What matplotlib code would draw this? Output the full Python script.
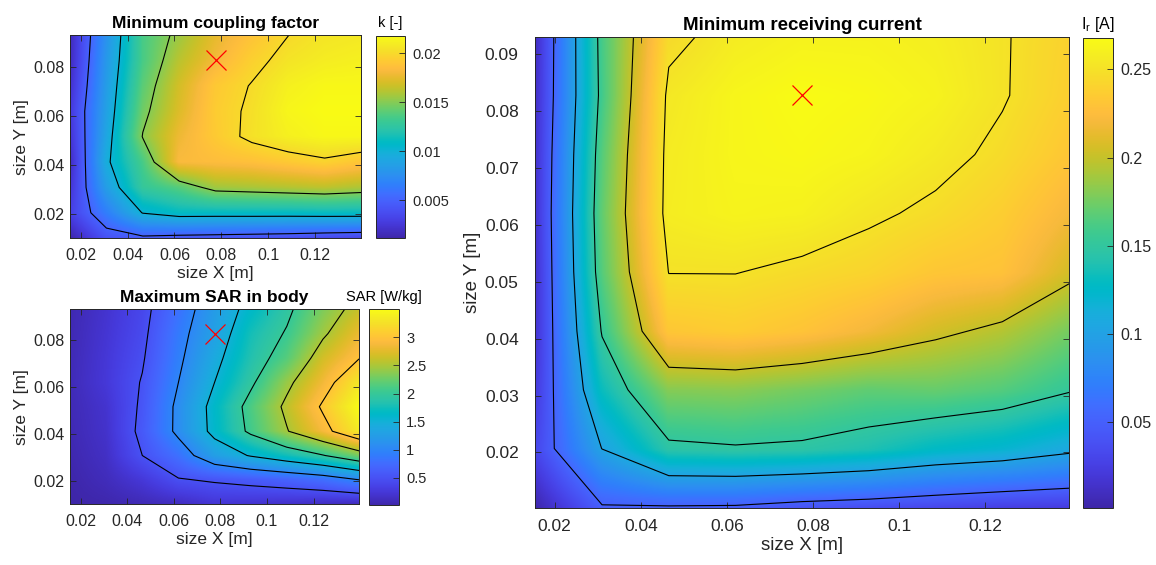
import numpy as np
import matplotlib
matplotlib.use('Agg')
import matplotlib.pyplot as plt
from matplotlib.colors import LinearSegmentedColormap
from matplotlib.ticker import FuncFormatter

plt.rcParams['font.family'] = ['Liberation Sans', 'DejaVu Sans']

# grid of coil sizes (9 x 9)
size_x = [0.0155, 0.031, 0.0465, 0.062, 0.0775, 0.093, 0.1085, 0.124, 0.1395]
size_y = [0.0103, 0.0207, 0.031, 0.0413, 0.0517, 0.062, 0.0723, 0.0827, 0.093]

# chosen design
opt_x = 0.0775
opt_y = 0.0827

# minimum coupling factor k [-], rows follow size_y (bottom -> top)
k_min = [
    [0.0011, 0.0040, 0.0045, 0.00418, 0.00403, 0.00386, 0.00368, 0.00338, 0.00317],
    [0.0030, 0.0065, 0.0101, 0.0110, 0.01097, 0.0110, 0.0110, 0.0111, 0.0111],
    [0.00226, 0.00849, 0.0128, 0.0139, 0.01565, 0.01588, 0.01613, 0.01637, 0.01598],
    [0.00167, 0.0096, 0.0135, 0.0183, 0.0185, 0.0187, 0.0192, 0.0197, 0.0190],
    [0.00219, 0.00905, 0.0151, 0.0178, 0.0192, 0.0204, 0.0212, 0.0216, 0.0216],
    [0.0025, 0.0087, 0.0145, 0.0172, 0.0193, 0.0203, 0.0215, 0.0218, 0.0218],
    [0.0020, 0.0084, 0.0140, 0.0169, 0.0191, 0.0201, 0.0212, 0.0216, 0.0216],
    [0.0016, 0.0081, 0.0135, 0.0162, 0.0180, 0.0195, 0.02054, 0.0210, 0.0212],
    [0.0015, 0.0077, 0.0135, 0.0155, 0.0175, 0.0188, 0.01998, 0.0206, 0.0208],
]
k_levels = [0.005, 0.01, 0.015, 0.02]
k_ticks = [0.005, 0.01, 0.015, 0.02]

# maximum SAR in body [W/kg]
sar_max = [
    [0.01, 0.03, 0.07, 0.12, 0.22, 0.20, 0.17, 0.13, 0.09],
    [0.02, 0.10, 0.25, 0.477, 0.535, 0.595, 0.67, 0.78, 1.00],
    [0.04, 0.15, 0.50, 0.80, 1.265, 1.526, 1.75, 1.98, 2.30],
    [0.06, 0.18, 0.58, 1.08, 1.605, 2.07, 2.48, 2.88, 3.34],
    [0.07, 0.20, 0.55, 1.08, 1.625, 2.118, 2.573, 3.047, 3.50],
    [0.08, 0.25, 0.52, 1.00, 1.50, 1.94, 2.42, 2.85, 3.32],
    [0.07, 0.24, 0.47, 0.93, 1.40, 1.83, 2.16, 2.67, 2.99],
    [0.06, 0.22, 0.43, 0.88, 1.29, 1.76, 2.03, 2.45, 2.81],
    [0.05, 0.20, 0.40, 0.80, 1.23, 1.63, 1.93, 2.32, 2.62],
]
sar_levels = [0.5, 1.0, 1.5, 2.0, 2.5, 3.0]
sar_ticks = [0.5, 1, 1.5, 2, 2.5, 3]

# minimum receiving current I_r [A]
ir_min = [
    [0.0014, 0.0474, 0.047, 0.046, 0.039, 0.035, 0.0295, 0.024, 0.022],
    [0.030, 0.1005, 0.145, 0.148, 0.146, 0.139, 0.127, 0.120, 0.107],
    [0.020, 0.131, 0.180, 0.1815, 0.1755, 0.169, 0.171, 0.165, 0.152],
    [0.014, 0.152, 0.232, 0.236, 0.230, 0.219, 0.205, 0.1945, 0.176],
    [0.012, 0.165, 0.2505, 0.2505, 0.246, 0.2412, 0.232, 0.229, 0.206],
    [0.013, 0.169, 0.258, 0.2625, 0.261, 0.2531, 0.2464, 0.237, 0.220],
    [0.012, 0.165, 0.257, 0.264, 0.266, 0.263, 0.2557, 0.246, 0.232],
    [0.010, 0.158, 0.2546, 0.264, 0.268, 0.266, 0.262, 0.2515, 0.238],
    [0.008, 0.160, 0.245, 0.2575, 0.262, 0.262, 0.259, 0.2515, 0.240],
]
ir_levels = [0.05, 0.1, 0.15, 0.2, 0.25]
ir_ticks = [0.05, 0.1, 0.15, 0.2, 0.25]

x_ticks = [0.02, 0.04, 0.06, 0.08, 0.1, 0.12]
y_ticks_small = [0.02, 0.04, 0.06, 0.08]
y_ticks_big = [0.02, 0.03, 0.04, 0.05, 0.06, 0.07, 0.08, 0.09]

# MATLAB parula, smoothed
parula = LinearSegmentedColormap.from_list('parula', [
    [0.2422, 0.1504, 0.6603], [0.2504, 0.1650, 0.7076], [0.2578, 0.1818, 0.7511],
    [0.2647, 0.1978, 0.7952], [0.2706, 0.2147, 0.8364], [0.2751, 0.2342, 0.8710],
    [0.2783, 0.2559, 0.8991], [0.2803, 0.2782, 0.9221], [0.2813, 0.3006, 0.9414],
    [0.2810, 0.3228, 0.9579], [0.2795, 0.3447, 0.9717], [0.2760, 0.3667, 0.9829],
    [0.2699, 0.3892, 0.9906], [0.2602, 0.4123, 0.9952], [0.2440, 0.4358, 0.9988],
    [0.2206, 0.4603, 0.9973], [0.1963, 0.4847, 0.9892], [0.1834, 0.5074, 0.9798],
    [0.1786, 0.5289, 0.9682], [0.1764, 0.5499, 0.9520], [0.1687, 0.5703, 0.9359],
    [0.1540, 0.5902, 0.9218], [0.1460, 0.6091, 0.9079], [0.1380, 0.6276, 0.8973],
    [0.1248, 0.6459, 0.8883], [0.1113, 0.6635, 0.8763], [0.0952, 0.6798, 0.8598],
    [0.0689, 0.6948, 0.8394], [0.0297, 0.7082, 0.8163], [0.0036, 0.7203, 0.7917],
    [0.0067, 0.7312, 0.7660], [0.0433, 0.7411, 0.7394], [0.0964, 0.7500, 0.7120],
    [0.1408, 0.7584, 0.6842], [0.1717, 0.7670, 0.6554], [0.1938, 0.7758, 0.6251],
    [0.2161, 0.7843, 0.5923], [0.2470, 0.7918, 0.5567], [0.2906, 0.7973, 0.5188],
    [0.3406, 0.8008, 0.4789], [0.3909, 0.8029, 0.4354], [0.4456, 0.8024, 0.3909],
    [0.5044, 0.7993, 0.3480], [0.5616, 0.7942, 0.3045], [0.6174, 0.7876, 0.2612],
    [0.6720, 0.7793, 0.2227], [0.7242, 0.7698, 0.1910], [0.7738, 0.7598, 0.1646],
    [0.8203, 0.7498, 0.1535], [0.8634, 0.7406, 0.1596], [0.9035, 0.7330, 0.1774],
    [0.9393, 0.7288, 0.2100], [0.9728, 0.7298, 0.2394], [0.9956, 0.7434, 0.2371],
    [0.9970, 0.7659, 0.2199], [0.9952, 0.7893, 0.2028], [0.9892, 0.8136, 0.1885],
    [0.9786, 0.8386, 0.1766], [0.9676, 0.8639, 0.1643], [0.9610, 0.8890, 0.1537],
    [0.9597, 0.9135, 0.1423], [0.9628, 0.9373, 0.1265], [0.9691, 0.9606, 0.1064],
    [0.9769, 0.9839, 0.0805]], N=512)

edge = '#262626'
fmt = FuncFormatter(lambda v, p: f'{v:g}')


def draw_map(ax, cax, z, levels, cticks, title, clabel, yticks, fs, tfs, cfs, xpad, ypad):
    z = np.array(z)
    x = np.array(size_x)
    y = np.array(size_y)
    dx = x[1] - x[0]
    dy = y[1] - y[0]
    im = ax.imshow(z, origin='lower', cmap=parula, aspect='auto',
                   extent=[x[0] - dx / 2, x[-1] + dx / 2, y[0] - dy / 2, y[-1] + dy / 2],
                   interpolation='bilinear', interpolation_stage='data')
    X, Y = np.meshgrid(x, y)
    ax.contour(X, Y, z, levels=levels, colors='k', linewidths=0.8)
    ax.plot(opt_x, opt_y, 'x', color='red', ms=14, mew=0.9)
    ax.set_xlim(x[0], x[-1])
    ax.set_ylim(y[0], y[-1])
    ax.set_xticks(x_ticks)
    ax.set_yticks(yticks)
    ax.xaxis.set_major_formatter(fmt)
    ax.yaxis.set_major_formatter(fmt)
    ax.tick_params(direction='in', top=True, right=True, length=4, width=0.6,
                   color=edge, labelsize=fs, labelcolor='#262626')
    ax.tick_params(axis='x', pad=xpad)
    ax.tick_params(axis='y', pad=ypad)
    for s in ax.spines.values():
        s.set_color(edge)
        s.set_linewidth(0.7)
    ax.set_xlabel('size X [m]', fontsize=fs + 1, color='#262626', labelpad=2)
    ax.set_ylabel('size Y [m]', fontsize=fs + 1, color='#262626', labelpad=3)
    ax.set_title(title, fontsize=tfs, fontweight='bold', pad=5)

    cb = fig.colorbar(im, cax=cax)
    cb.set_ticks(cticks)
    cb.ax.yaxis.set_major_formatter(fmt)
    cb.ax.tick_params(direction='in', length=4, width=0.6, color=edge,
                      labelsize=cfs, labelcolor='#262626', pad=5)
    cb.outline.set_edgecolor(edge)
    cb.outline.set_linewidth(0.7)
    cax.set_title(clabel, fontsize=cfs, pad=6)


fig = plt.figure(figsize=(11.56, 5.65), dpi=100)
ax1 = fig.add_axes([0.0606, 0.5782, 0.2517, 0.3598])
cax1 = fig.add_axes([0.325, 0.5782, 0.02535, 0.3586])
ax2 = fig.add_axes([0.0606, 0.1074, 0.25, 0.3451])
cax2 = fig.add_axes([0.3195, 0.1056, 0.0257, 0.3469])
ax3 = fig.add_axes([0.4631, 0.1014, 0.4617, 0.8336])
cax3 = fig.add_axes([0.9366, 0.1014, 0.0262, 0.8319])

draw_map(ax1, cax1, k_min, k_levels, k_ticks, 'Minimum coupling factor', 'k [-]',
         y_ticks_small, 11.5, 12.5, 10.5, 7, 4)
draw_map(ax2, cax2, sar_max, sar_levels, sar_ticks, 'Maximum SAR in body', 'SAR [W/kg]',
         y_ticks_small, 11.5, 12.5, 10.5, 7, 4)
draw_map(ax3, cax3, ir_min, ir_levels, ir_ticks, 'Minimum receiving current',
         r'I$_\mathregular{r}$ [A]', y_ticks_big, 12.5, 13.5, 11.5, 8, 12)

fig.savefig('out.png', dpi=100)
